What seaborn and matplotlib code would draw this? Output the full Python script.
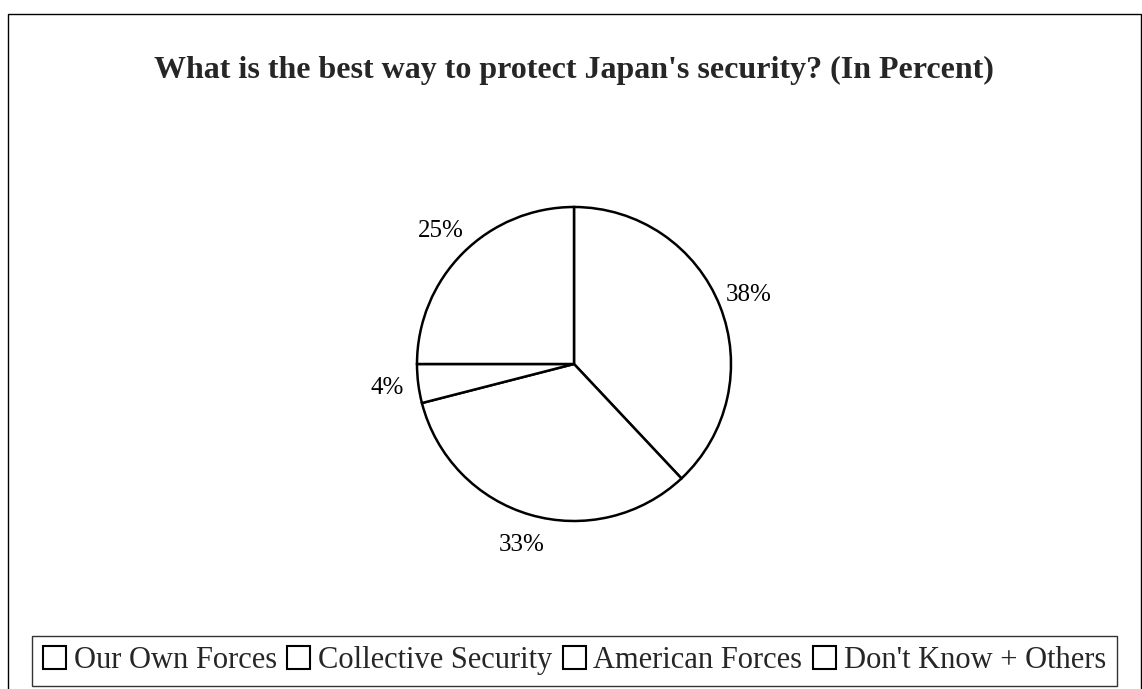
import matplotlib
matplotlib.use("Agg")
import matplotlib.pyplot as plt
from matplotlib.patches import Rectangle
import seaborn as sns

title = "What is the best way to protect Japan's security? (In Percent)"
categories = ["Our Own Forces", "Collective Security", "American Forces", "Don't Know + Others"]
percents = [38, 33, 4, 25]

sns.set_theme(style="white")
plt.rcParams["font.family"] = ["Liberation Serif", "DejaVu Serif"]

W, H = 1142, 689
fig = plt.figure(figsize=(W / 100, H / 100), dpi=100)
fig.patch.set_facecolor("white")

# pie axes: centre ~(574, 364) px, radius ~157 px
cx, cy, r = 574, 364, 157
ax = fig.add_axes([(cx - r) / W, (H - cy - r) / H, 2 * r / W, 2 * r / H])
wedges, texts, autotexts = ax.pie(
    percents,
    startangle=90,
    counterclock=False,
    colors=["white"] * len(percents),
    wedgeprops={"edgecolor": "black", "linewidth": 1.8},
    autopct=lambda p: f"{p:.0f}%",
    pctdistance=1.2,
    textprops={"fontsize": 18, "color": "black"},
)
ax.set_xlim(-1, 1)
ax.set_ylim(-1, 1)
ax.set_aspect("equal")
ax.axis("off")

fig.text(0.503, 0.898, title, ha="center", va="center",
         fontsize=23, fontweight="bold")

leg = fig.legend(
    wedges, categories,
    loc="lower center", bbox_to_anchor=(0.503, 0.0), ncol=4,
    fontsize=22, frameon=True, fancybox=False, borderpad=0.35,
    handlelength=0.75, handleheight=0.75, handletextpad=0.25,
    columnspacing=0.35, borderaxespad=0.1,
)
leg.get_frame().set_edgecolor("black")
leg.get_frame().set_linewidth(1.0)
for h in leg.legend_handles:
    h.set_edgecolor("black")
    h.set_linewidth(1.5)

# outer border of the original figure frame
fig.add_artist(Rectangle((8 / W, -0.01), (1141 - 8) / W, (H - 14) / H + 0.01,
                         transform=fig.transFigure, fill=False,
                         edgecolor="black", linewidth=1.0))

fig.savefig("out.png", dpi=100)
